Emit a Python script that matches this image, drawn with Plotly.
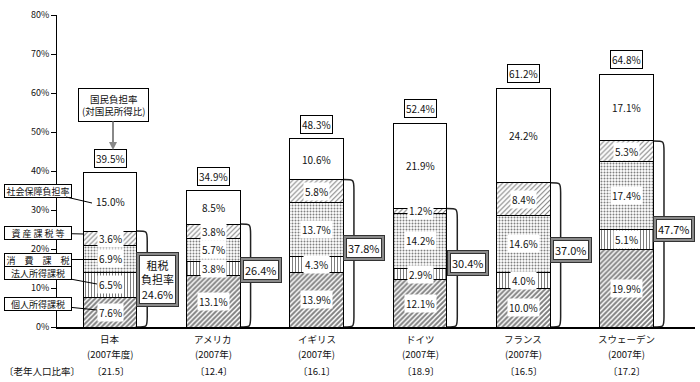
import plotly.graph_objects as go

categories = ["日本", "アメリカ", "イギリス", "ドイツ", "フランス", "スウェーデン"]
years = ["(2007年度)", "(2007年)", "(2007年)", "(2007年)", "(2007年)", "(2007年)"]
personal = [7.6, 13.1, 13.9, 12.1, 10.0, 19.9]
corporate = [6.5, 3.8, 4.3, 2.9, 4.0, 5.1]
consumption = [6.9, 5.7, 13.7, 14.2, 14.6, 17.4]
asset = [3.6, 3.8, 5.8, 1.2, 8.4, 5.3]
social = [15.0, 8.5, 10.6, 21.9, 24.2, 17.1]
tax_total = [24.6, 26.4, 37.8, 30.4, 37.0, 47.7]
national_total = [39.5, 34.9, 48.3, 52.4, 61.2, 64.8]
elderly = ["21.5", "12.4", "16.1", "18.9", "16.5", "17.2"]
series_names = ["個人所得課税", "法人所得課税", "消費課税", "資産課税等", "社会保障負担率"]
legend_texts = ["個人所得課税", "法人所得課税", "消　費　課　税", "資 産 課 税 等", "社会保障負担率"]

FONT = "Noto Sans CJK JP"
TXT = "#111111"
xs = list(range(len(categories)))
BW = 0.52

W, H = 700, 382
ML, MR, MT, MB = 57, 5, 15, 55
XR = [-0.513, 5.66]
YR = [0, 80]
PW = W - ML - MR
PH = H - MT - MB


def px_to_x(px):
    return XR[0] + (px - ML) / PW * (XR[1] - XR[0])


def py_to_y(py):
    return YR[1] - (py - MT) / PH * (YR[1] - YR[0])


def py_to_paper(py):
    return 1 - (py - MT) / PH


def px_to_paper(px):
    return (px - ML) / PW


series = [personal, corporate, consumption, asset, social]
patterns = [
    dict(shape="/", fgcolor="black", bgcolor="white", size=3.5, solidity=0.55),
    dict(shape="|", fgcolor="black", bgcolor="white", size=3, solidity=0.35),
    dict(shape=".", fgcolor="black", bgcolor="white", size=3, solidity=0.35),
    dict(shape="/", fgcolor="black", bgcolor="white", size=3.5, solidity=0.3),
    dict(shape="", fgcolor="black", bgcolor="white"),
]

fig = go.Figure()
for name, vals, pat in zip(series_names, series, patterns):
    fig.add_trace(go.Bar(
        x=xs, y=vals, name=name, width=BW,
        marker=dict(color="white", pattern=pat, line=dict(color="black", width=1)),
        showlegend=False, hoverinfo="skip",
    ))

ann = []
for i in xs:
    base = 0.0
    for vals in series:
        v = vals[i]
        ann.append(dict(x=i, y=base + v / 2, text=f"{v:.1f}%", showarrow=False,
                        bgcolor="white", borderpad=1,
                        font=dict(family=FONT, size=10, color=TXT)))
        base += v
    ann.append(dict(x=i, y=national_total[i], yanchor="bottom", yshift=5,
                    text=f"{national_total[i]:.1f}%", showarrow=False,
                    bgcolor="white", bordercolor="black", borderwidth=1, borderpad=1,
                    font=dict(family=FONT, size=10, color=TXT)))
    t = f"{tax_total[i]:.1f}%"
    if i == 0:
        t = "租税<br>負担率<br>" + t
        ty = tax_total[i] / 2
    else:
        ty = tax_total[i] / 2 + 1.3
    bx = i + BW / 2 + 0.2
    ann.append(dict(x=bx, y=ty, text=t, showarrow=False, bgcolor="#8a8a8a",
                    bordercolor="#333", borderwidth=1, borderpad=4,
                    font=dict(family=FONT, size=11, color=TXT)))
    ann.append(dict(x=bx, y=ty, text=t, showarrow=False, bgcolor="white",
                    bordercolor="#333", borderwidth=1, borderpad=1,
                    font=dict(family=FONT, size=11, color=TXT)))
    ann.append(dict(x=i, y=py_to_paper(339), yref="paper", yanchor="middle",
                    text=categories[i], showarrow=False, height=12,
                    font=dict(family=FONT, size=9.5, color=TXT)))
    ann.append(dict(x=i, y=py_to_paper(354), yref="paper", yanchor="middle",
                    text=years[i], showarrow=False, height=12,
                    font=dict(family=FONT, size=9.5, color=TXT)))
    ann.append(dict(x=i, y=py_to_paper(371), yref="paper", yanchor="middle",
                    text=f"〔{elderly[i]}〕", showarrow=False, height=12,
                    font=dict(family=FONT, size=9.5, color=TXT)))

ann.append(dict(x=px_to_paper(2), xref="paper", xanchor="left", y=py_to_paper(371),
                yref="paper", yanchor="middle", text="〔老年人口比率〕", showarrow=False,
                height=12, font=dict(family=FONT, size=9.5, color=TXT)))

call_box_y = [304, 273, 259.5, 233, 190.5]
call_tgt = [(97, 310), (97, 284), (97, 259.5), (84, 234), (92, 203)]
BOX_CX = 38
for k in range(5):
    tx, ty = call_tgt[k]
    ann.append(dict(x=px_to_x(tx), y=py_to_y(ty), text=legend_texts[k], showarrow=True,
                    arrowhead=0, arrowwidth=1, arrowcolor="black",
                    ax=BOX_CX - tx, ay=call_box_y[k] - ty, width=64, height=10,
                    bgcolor="white", bordercolor="black", borderwidth=1, borderpad=1,
                    font=dict(family=FONT, size=9, color=TXT)))

ann.append(dict(x=px_to_x(113), y=py_to_y(150), text="国民負担率<br>(対国民所得比)",
                showarrow=True, arrowhead=2, arrowsize=0.8, arrowwidth=2, arrowcolor="#888",
                ax=0, ay=-45, bgcolor="white", bordercolor="black", borderwidth=1,
                borderpad=3, font=dict(family=FONT, size=9.5, color=TXT)))

shapes = []
for i in xs:
    xr = i + BW / 2
    d = 0.1
    top = tax_total[i]
    r = 2.6
    path = (f"M {xr},{top} C {xr + d},{top} {xr + d},{top} {xr + d},{top - r} "
            f"L {xr + d},{r} C {xr + d},0 {xr + d},0 {xr},0")
    shapes.append(dict(type="path", path=path, xref="x", yref="y",
                       line=dict(color="#222", width=1.5), layer="below"))

fig.update_layout(
    barmode="stack",
    width=W, height=H,
    margin=dict(l=ML, r=MR, t=MT, b=MB),
    paper_bgcolor="white", plot_bgcolor="white",
    annotations=ann, shapes=shapes,
    xaxis=dict(range=XR, showticklabels=False, ticks="", showgrid=False,
               zeroline=False, showline=True, linecolor="black", linewidth=2),
    yaxis=dict(range=YR, dtick=10, ticksuffix="%", showgrid=False, zeroline=False,
               showline=True, linecolor="black", linewidth=1, ticks="outside",
               ticklen=5, tickcolor="black",
               tickfont=dict(family=FONT, size=9, color=TXT)),
    font=dict(family=FONT),
)

fig.write_html("out.html", config={"displayModeBar": False},
               post_script="document.body.style.margin='0';document.body.style.overflow='hidden';")
